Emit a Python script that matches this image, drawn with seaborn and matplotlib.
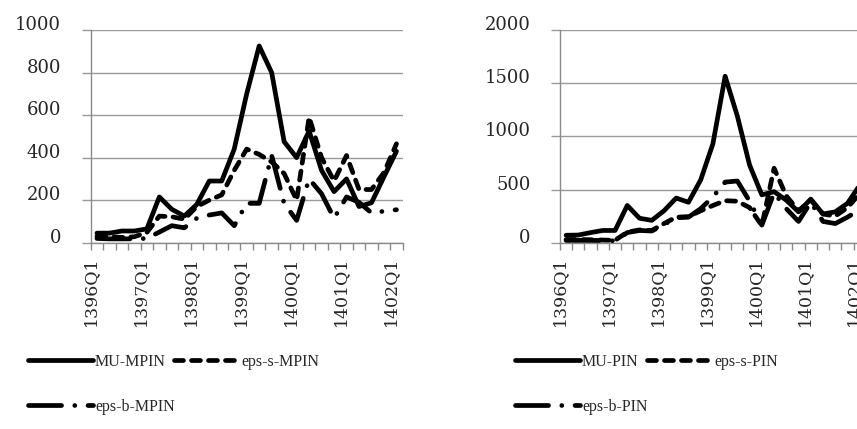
import numpy as np
import pandas as pd
import matplotlib
matplotlib.use("Agg")
import matplotlib.pyplot as plt
import seaborn as sns
from matplotlib.lines import Line2D

categories = ["1396Q1", "1396Q2", "1396Q3", "1396Q4",
              "1397Q1", "1397Q2", "1397Q3", "1397Q4",
              "1398Q1", "1398Q2", "1398Q3", "1398Q4",
              "1399Q1", "1399Q2", "1399Q3", "1399Q4",
              "1400Q1", "1400Q2", "1400Q3", "1400Q4",
              "1401Q1", "1401Q2", "1401Q3", "1401Q4",
              "1402Q1"]

mu_mpin = [45, 45, 55, 55, 65, 215, 157, 125, 180, 290, 290, 440, 700, 925, 800,
           475, 400, 525, 340, 240, 300, 170, 188, 310, 430]
eps_s_mpin = [30, 28, 25, 28, 48, 125, 122, 110, 170, 200, 225, 340, 440, 415, 380,
              325, 200, 590, 400, 290, 410, 250, 250, 330, 465]
eps_b_mpin = [20, 18, 18, 18, 20, 50, 80, 70, 115, 130, 140, 80, 185, 185, 410,
              185, 105, 300, 230, 115, 215, 190, 140, 148, 155]

mu_pin = [70, 72, 95, 115, 115, 350, 230, 210, 300, 420, 380, 590, 930, 1565, 1190,
          730, 450, 480, 400, 290, 410, 270, 290, 370, 540]
eps_s_pin = [30, 30, 28, 25, 22, 100, 120, 115, 180, 240, 245, 300, 350, 395, 390,
             330, 160, 700, 440, 300, 400, 270, 250, 330, 460]
eps_b_pin = [22, 22, 22, 20, 18, 95, 115, 110, 170, 235, 240, 320, 430, 570, 580,
             390, 165, 470, 320, 200, 380, 200, 180, 240, 310]

left_labels = ["MU-MPIN", "eps-s-MPIN", "eps-b-MPIN"]
right_labels = ["MU-PIN", "eps-s-PIN", "eps-b-PIN"]

sns.set_style("white")
plt.rcParams["font.family"] = ["DejaVu Serif"]

W, H = 857, 429
fig = plt.figure(figsize=(W / 100, H / 100), dpi=100)

LW = 3.4
GRID = "#9a9a9a"
SPINE = "#8a8a8a"
S_DASH = (1.9, 1.7)
B_DASH = (7.0, 2.8, 0.01, 2.8)


def style_line(line, dashes=None):
    line.set_solid_capstyle("round")
    line.set_dash_capstyle("round")
    line.set_solid_joinstyle("round")
    line.set_dash_joinstyle("round")
    if dashes is not None:
        line.set_dashes(dashes)


def panel(rect, mu, es, eb, ymax, ystep, labels, leg_x):
    ax = fig.add_axes(rect)
    df = pd.DataFrame({"idx": np.arange(len(categories)), "cat": categories,
                       "mu": mu, "es": es, "eb": eb})
    specs = [("eb", B_DASH), ("es", S_DASH), ("mu", None)]
    for col, dsh in specs:
        sns.lineplot(data=df, x="idx", y=col, ax=ax, color="black", lw=LW,
                     zorder=3)
        style_line(ax.lines[-1], dsh)
    ax.set_xlim(-0.5, len(categories) - 0.5)
    ax.set_ylim(0, ymax)
    ax.set_yticks(np.arange(0, ymax + 1, ystep))
    bounds = np.arange(-0.5, len(categories), 1.0)
    ax.set_xticks(bounds)
    xl = []
    for k in range(len(bounds)):
        xl.append(categories[k] if (k < len(categories) and k % 4 == 0) else "")
    ax.set_xticklabels(xl, rotation=90, fontsize=12.5)
    ax.set_xlabel("")
    ax.set_ylabel("")
    ax.yaxis.grid(True, color=GRID, lw=1.0, zorder=0)
    ax.xaxis.grid(False)
    for s in ["top", "right"]:
        ax.spines[s].set_visible(False)
    for s in ["left", "bottom"]:
        ax.spines[s].set_color(SPINE)
        ax.spines[s].set_linewidth(1.0)
    ax.tick_params(axis="x", direction="out", length=5, width=1.0, color=SPINE,
                   pad=5, bottom=True)
    ax.tick_params(axis="y", direction="out", length=6.3, width=1.0, color=GRID,
                   pad=15, labelsize=13, left=True)
    for t in ax.get_yticklabels():
        t.set_verticalalignment("baseline")
    ax.set_axisbelow(True)

    h_mu = Line2D([], [], color="black", lw=LW)
    h_es = Line2D([], [], color="black", lw=LW)
    h_eb = Line2D([], [], color="black", lw=LW)
    style_line(h_mu)
    style_line(h_es, S_DASH)
    style_line(h_eb, B_DASH)
    lkw = dict(frameon=False, prop={"family": "Liberation Serif", "size": 11.5},
               handlelength=4.1, handletextpad=0.1, columnspacing=0.5,
               borderaxespad=0, borderpad=0, loc="upper left")
    fig.legend([h_mu, h_es], labels[:2], ncol=2,
               bbox_to_anchor=(leg_x / W, 1 - 354 / H), **lkw)
    fig.legend([h_eb], labels[2:], ncol=1,
               bbox_to_anchor=(leg_x / W, 1 - 399 / H), **lkw)
    return ax


panel([90.7 / W, (H - 242.7) / H, 312 / W, 212.7 / H],
      mu_mpin, eps_s_mpin, eps_b_mpin, 1000, 200, left_labels, 28)
panel([560 / W, (H - 242.7) / H, 305.8 / W, 212.7 / H],
      mu_pin, eps_s_pin, eps_b_pin, 2000, 500, right_labels, 515)

fig.savefig("out.png", dpi=100)
